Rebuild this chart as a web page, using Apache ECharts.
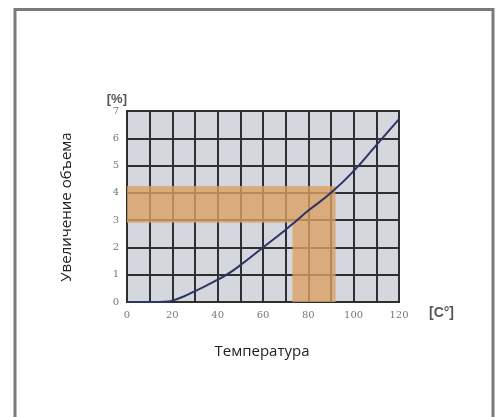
<!DOCTYPE html>
<html><head><meta charset="utf-8">
<script src="https://cdn.jsdelivr.net/npm/echarts@6/dist/echarts.min.js"></script>
<style>html,body{margin:0;padding:0;background:#fff}#c{width:501px;height:417px}</style>
</head><body><div id="c"></div>
<script>
const curveX = [0, 10, 18, 20, 25, 30, 35, 40, 44, 50, 60, 70, 75, 80, 90, 100, 110, 120];
const curveY = [0, 0, 0.02, 0.05, 0.2, 0.4, 0.6, 0.82, 1.0, 1.35, 2.0, 2.65, 3.0, 3.35, 4.0, 4.8, 5.75, 6.7];
const bandH = { x0: 0, x1: 92, y0: 2.9, y1: 4.25 };
const bandV = { x0: 73, x1: 92, y0: 0, y1: 2.9 };
const xName = '[C°]';
const yName = '[%]';
const xTitle = 'Температура';
const yTitle = 'Увеличение объема';

const chart = echarts.init(document.getElementById('c'));
chart.setOption({
  animation: false,
  backgroundColor: '#fff',
  grid: { left: 127, top: 111, width: 272, height: 191, show: true, backgroundColor: '#d5d7df', borderColor: '#2f2f2f', borderWidth: 2 },
  graphic: [
    { type: 'rect', shape: { x: 15, y: 9.5, width: 478, height: 420 }, style: { fill: 'none', stroke: '#7a7a7a', lineWidth: 3 } },
    { type: 'text', x: 262, y: 352, style: { text: xTitle, font: '15px "Open Sans", sans-serif', fill: '#222', textAlign: 'center', textVerticalAlign: 'middle' } },
    { type: 'text', x: 67, y: 207, rotation: Math.PI / 2, style: { text: yTitle, font: '15px "Open Sans", sans-serif', fill: '#222', textAlign: 'center', textVerticalAlign: 'middle' } }
  ],
  xAxis: {
    type: 'value', min: 0, max: 120, interval: 10,
    name: xName, nameLocation: 'end', nameGap: 30,
    nameTextStyle: { fontSize: 14, color: '#555', fontWeight: 'bold', verticalAlign: 'top', padding: [4, 0, 0, 0] },
    axisLine: { show: true, lineStyle: { color: '#2f2f2f', width: 2 } },
    axisTick: { show: false },
    axisLabel: { color: '#777', fontSize: 10, fontFamily: 'DejaVu Serif', margin: 8, formatter: v => (v % 20 === 0 ? String(v) : '') },
    splitLine: { show: true, lineStyle: { color: '#2f2f2f', width: 2 } }
  },
  yAxis: {
    type: 'value', min: 0, max: 7, interval: 1,
    name: yName, nameLocation: 'end', nameGap: 5,
    nameTextStyle: { fontSize: 13, color: '#555', fontWeight: 'bold', align: 'right', padding: [0, 0, 0, 0] },
    axisLine: { show: true, lineStyle: { color: '#2f2f2f', width: 2 } },
    axisTick: { show: false },
    axisLabel: { color: '#777', fontSize: 10, fontFamily: 'DejaVu Serif', margin: 8 },
    splitLine: { show: true, lineStyle: { color: '#2f2f2f', width: 2 } }
  },
  series: [{
    type: 'line',
    data: curveX.map((x, i) => [x, curveY[i]]),
    smooth: true, showSymbol: false,
    lineStyle: { color: '#2b3566', width: 2 },
    markArea: {
      silent: true,
      itemStyle: { color: 'rgba(218,160,100,0.8)' },
      data: [
        [{ xAxis: bandH.x0, yAxis: bandH.y0 }, { xAxis: bandH.x1, yAxis: bandH.y1 }],
        [{ xAxis: bandV.x0, yAxis: bandV.y0 }, { xAxis: bandV.x1, yAxis: bandV.y1 }]
      ]
    },
    z: 3
  }]
});
</script></body></html>
